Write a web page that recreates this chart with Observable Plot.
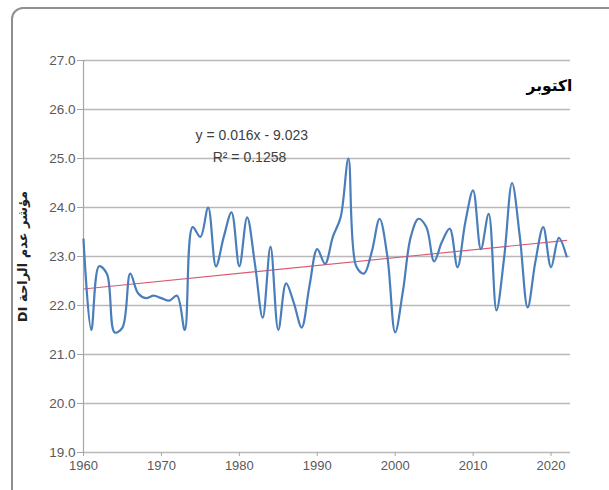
<!DOCTYPE html>
<html>
<head>
<meta charset="utf-8">
<script src="https://cdn.jsdelivr.net/npm/d3@7"></script>
<script src="https://cdn.jsdelivr.net/npm/@observablehq/plot@0.6"></script>
<style>
  html, body { margin: 0; padding: 0; background: #ffffff; }
  #wrap { position: relative; width: 609px; height: 490px; overflow: hidden; background: #fff; }
  #card { position: absolute; left: 11px; top: 7px; width: 640px; height: 520px;
          border: 2px solid #8f8f8f; border-radius: 12px; background: #fff; box-sizing: border-box; }
  #chart { position: absolute; left: 0; top: 0; }
</style>
</head>
<body>
<div id="wrap"><div id="card"></div><div id="chart"></div></div>
<script>
// ---- data ----
const years = [1960,1961,1962,1963,1964,1965,1966,1967,1968,1969,
               1970,1971,1972,1973,1974,1975,1976,1977,1978,1979,
               1980,1981,1982,1983,1984,1985,1986,1987,1988,1989,
               1990,1991,1992,1993,1994,1995,1996,1997,1998,1999,
               2000,2001,2002,2003,2004,2005,2006,2007,2008,2009,
               2010,2011,2012,2013,2014,2015,2016,2017,2018,2019,
               2020,2021,2022];
const diValues = [23.35,21.5,22.8,22.65,21.45,21.55,22.65,22.25,22.15,22.2,
                  22.15,22.1,22.2,21.5,23.6,23.4,24.0,22.8,23.4,23.9,
                  22.8,23.8,22.85,21.75,23.2,21.5,22.45,22.05,21.55,22.4,
                  23.15,22.85,23.4,23.8,25.0,22.8,22.65,23.1,23.77,23.0,
                  21.45,22.3,23.4,23.77,23.6,22.9,23.3,23.57,22.78,23.7,
                  24.35,23.15,23.87,21.9,23.0,24.5,23.4,21.96,22.9,23.6,
                  22.78,23.38,23.0];
const trendYears = [1960, 2022];
const trendValues = [22.337, 23.329];
const xTicks = [1960,1970,1980,1990,2000,2010,2020];
const yTicks = [19,20,21,22,23,24,25,26,27];
const xDomain = [1960, 2022.5];
const yDomain = [19, 27];
const titleText = "اكتوبر";
const yLabel = "مؤشر عدم الراحة DI";
const eqLine1 = "y = 0.016x - 9.023";
const eqLine2 = "R² = 0.1258";

const series = years.map((y, i) => ({year: y, di: diValues[i]}));
const trend = trendYears.map((y, i) => ({year: y, di: trendValues[i]}));

const fontNarrow = "'Liberation Sans Narrow', 'Liberation Sans', Arial, sans-serif";
const fontArabic = "'DejaVu Sans', 'Noto Sans', sans-serif";

const chart = Plot.plot({
  width: 609,
  height: 490,
  marginLeft: 83,
  marginRight: 39,
  marginTop: 60,
  marginBottom: 38,
  style: {background: "transparent", fontFamily: fontNarrow, fontSize: "13px", color: "#595959"},
  x: {domain: xDomain, ticks: xTicks},
  y: {domain: yDomain, ticks: yTicks},
  marks: [
    Plot.ruleY(yTicks, {x1: xDomain[0], x2: xDomain[1], stroke: "#b9b9b9", strokeWidth: 1.4}),
    Plot.ruleX([xDomain[0]], {stroke: "#a6a6a6", strokeWidth: 1.2}),
    Plot.axisX({ticks: xTicks, tickFormat: d => String(d), tickSize: 4, tickPadding: 4,
                stroke: "#a6a6a6", fill: "#595959", label: null, fontSize: 13}),
    Plot.axisY({ticks: yTicks, tickFormat: d3.format(".1f"), tickSize: 6, tickPadding: 2,
                stroke: "#a6a6a6", fill: "#595959", label: null, fontSize: 13.5}),
    Plot.line(trend, {x: "year", y: "di", stroke: "#dc5a72", strokeWidth: 1.1}),
    Plot.line(series, {x: "year", y: "di", stroke: "#4a7ebb", strokeWidth: 2.2, curve: "catmull-rom"}),
    Plot.text([eqLine1], {x: 1981.6, y: 25.47, text: d => d, fill: "#404040", fontSize: 14, fontFamily: fontNarrow}),
    Plot.text([eqLine2], {x: 1981.3, y: 25.02, text: d => d, fill: "#404040", fontSize: 14, fontFamily: fontNarrow}),
    Plot.text([titleText], {x: 2019.8, y: 26.48, text: d => d, fill: "#000", fontWeight: "bold", fontSize: 15.5, fontFamily: fontArabic}),
    Plot.text(["\u202B" + yLabel + "\u202C"], {frameAnchor: "left", dx: -61, rotate: -90, textAnchor: "middle", text: d => d, fill: "#222",
                         fontWeight: "bold", fontSize: 13, fontFamily: fontArabic})
  ]
});
document.getElementById("chart").appendChild(chart);
</script>
</body>
</html>
